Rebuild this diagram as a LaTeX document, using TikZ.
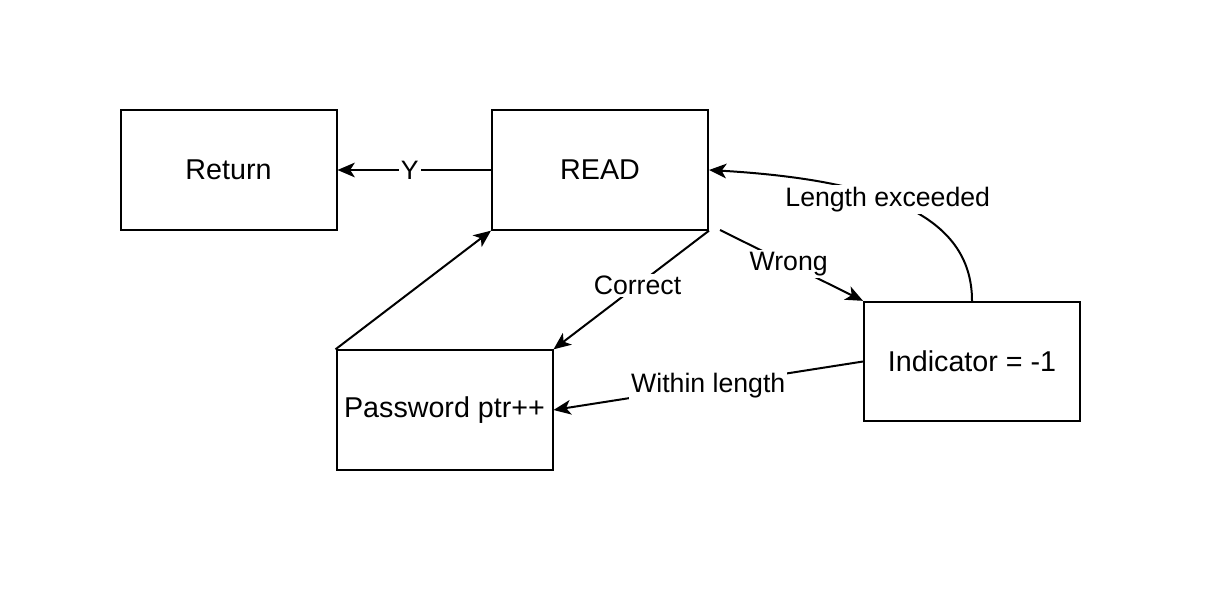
\documentclass[tikz,border=0pt]{standalone}
\usepackage{fontspec}
\setmainfont{Liberation Sans}
\usetikzlibrary{arrows.meta}
\begin{document}
\begin{tikzpicture}[x=0.75pt,y=-0.75pt,
  every node/.style={font=\fontsize{20}{24}\selectfont},
  box/.style={draw,line width=1.5pt,rectangle,minimum width=162pt,minimum height=89.5pt,inner sep=0pt,font=\fontsize{21.5}{26}\selectfont},
  conn/.style={line width=1.5pt,-{Stealth[length=13pt,width=11pt,inset=3.5pt]}},
  lbl/.style={fill=white,inner sep=1.5pt}]
\useasboundingbox (0,0) rectangle (1226,602);
\node[box] (ret) at (228.5,170) {Return};
\node[box] (read) at (600,170) {READ};
\node[box] (pw) at (444.5,410) {Password ptr++};
\node[box] (ind) at (972,361.5) {Indicator = -1};
\coordinate (ws) at (720,230);
\draw[conn] (read.west) -- node[lbl,pos=0.53] {Y} (ret.east);
\draw[conn] (pw.north west) -- (read.south west);
\draw[conn] (read.south east) -- node[lbl,pos=0.46] {Correct} (pw.north east);
\draw[conn] (ws) -- node[lbl,pos=0.48] {Wrong} (ind.north west);
\draw[conn] (ind.west) -- node[lbl,pos=0.5] {Within length} (pw.east);
\draw[conn] (ind.north) .. controls (972,215) and (880,180) .. node[lbl,pos=0.56] {Length exceeded} (read.east);
\end{tikzpicture}
\end{document}
